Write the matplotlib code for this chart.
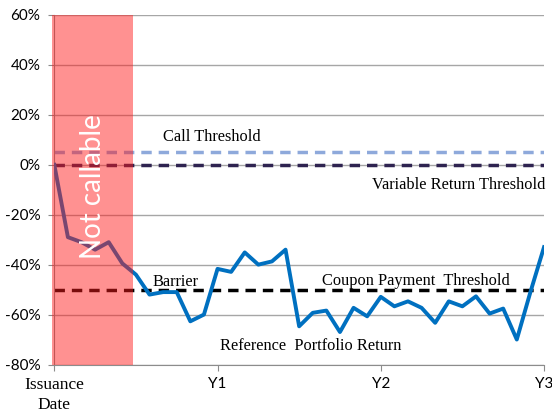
import matplotlib.pyplot as plt
from matplotlib.patches import Rectangle

# Datos (meses desde la emision)
months = list(range(37))
portfolio = [0, -29, -31, -34, -31, -39.5, -44, -52, -51, -51,
             -62.7, -60, -41.7, -42.9, -35.1, -40, -38.7, -34, -64.7,
             -59.3, -58.4, -67, -57.3, -60.7, -52.9, -56.7, -54.7,
             -57.3, -63.3, -54.7, -56.7, -52.7, -59.6, -57.6, -70, -51, -33]
call_threshold = 5
variable_threshold = 0
coupon_threshold = -50
not_callable_end = 5.8

year_ticks = [0, 12, 24, 36]
year_labels = ['Issuance\nDate', 'Y1', 'Y2', 'Y3']
y_ticks = [-80, -60, -40, -20, 0, 20, 40, 60]

fig = plt.figure(figsize=(5.52, 4.13), dpi=100)
ax = fig.add_axes([54.3 / 552, 1 - 364.5 / 413, (544 - 54.3) / 552, (364.5 - 15) / 413])

ax.plot(months, portfolio, color='#0070C0', lw=2.8, zorder=3)
ax.axhline(call_threshold, color='#8EA9DB', lw=2.5, ls=(0, (3, 2)), zorder=2)
ax.axhline(variable_threshold, color='#2E2350', lw=2.5, ls=(0, (3, 2)), zorder=2)
ax.axhline(coupon_threshold, color='black', lw=2.5, ls=(0, (3, 2)), zorder=2)

# zona no rescatable
ax.add_patch(Rectangle((-0.2, -80), not_callable_end + 0.2, 140, color='#FF1A1A',
                       alpha=0.48, lw=0, zorder=4, clip_on=False))
ax.text(2.85, -8.8, 'Not callable', rotation=90, color='white', fontsize=20,
        family='Lato', ha='center', va='center', zorder=5)

serif = 'Liberation Serif'
fs = 11.8
ax.text(11.6, 11, 'Call Threshold', family=serif, fontsize=fs, ha='center', va='center')
ax.text(36.1, -8, 'Variable Return Threshold', family=serif, fontsize=fs, ha='right', va='center')
ax.text(7.2, -47, 'Barrier', family=serif, fontsize=fs, ha='left', va='center')
ax.text(19.7, -46.5, 'Coupon Payment  Threshold', family=serif, fontsize=fs, ha='left', va='center')
ax.text(12.2, -72.5, 'Reference  Portfolio Return', family=serif, fontsize=fs, ha='left', va='center')

ax.set_xlim(0, 36)
ax.set_ylim(-80, 60)
ax.set_yticks(y_ticks)
ax.set_yticklabels(['%d%%' % v for v in y_ticks], family='Lato', fontsize=11)
ax.set_xticks(year_ticks)
ax.set_xticklabels(year_labels, fontsize=11)
for i, lbl in enumerate(ax.get_xticklabels()):
    if i == 0:
        lbl.set_family(serif)
        lbl.set_fontsize(12.5)
        lbl.set_linespacing(1.3)
    else:
        lbl.set_family('Lato')

ax.grid(axis='y', color='#A6A6A6', lw=1)
ax.set_axisbelow(True)
for s in ['top', 'right']:
    ax.spines[s].set_visible(False)
for s in ['left', 'bottom']:
    ax.spines[s].set_color('#8C8C8C')
ax.tick_params(axis='both', color='#8C8C8C', length=4, labelcolor='black')
ax.tick_params(axis='y', pad=6)
ax.tick_params(axis='x', pad=5)

fig.savefig('out.png', dpi=100)
